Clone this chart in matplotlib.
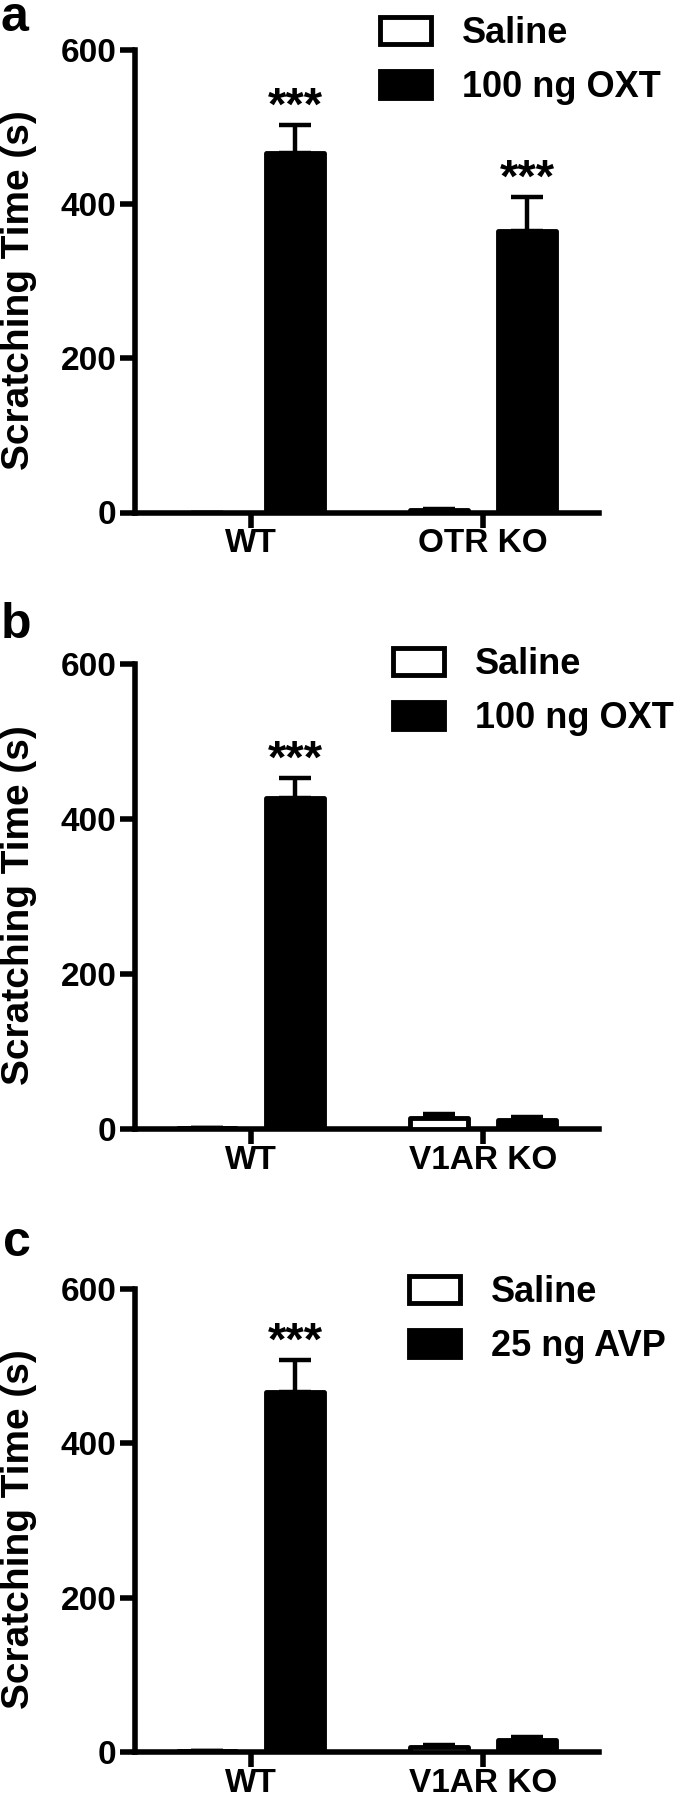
import matplotlib
matplotlib.use("Agg")
import matplotlib.pyplot as plt
from matplotlib.patches import Patch
import numpy as np

plt.rcParams['font.family'] = ['Liberation Sans', 'DejaVu Sans']
plt.rcParams['font.weight'] = 'bold'

# ---- data ----
groups_a = ["WT", "OTR KO"]
groups_bc = ["WT", "V1AR KO"]
saline_a = [0.0, 3.0]
saline_a_err = [0.0, 1.0]
oxt_a = [467.0, 365.0]
oxt_a_err = [36.0, 44.0]

saline_b = [1.0, 14.0]
saline_b_err = [0.5, 5.0]
oxt_b = [427.0, 11.0]
oxt_b_err = [26.0, 4.0]

saline_c = [1.0, 7.0]
saline_c_err = [0.5, 2.0]
avp_c = [467.0, 15.0]
avp_c_err = [41.0, 4.0]

stars_a = ["***", "***"]
stars_b = ["***", ""]
stars_c = ["***", ""]

legend_a = ["Saline", "100 ng OXT"]
legend_b = ["Saline", "100 ng OXT"]
legend_c = ["Saline", "25 ng AVP"]

yticks = [0, 200, 400, 600]
ylabel = "Scratching Time (s)"
panel_letters = ["a", "b", "c"]

# ---- figure ----
W, H = 682, 1800
fig = plt.figure(figsize=(W / 100, H / 100), dpi=100)

SPINE_LW = 4.0
BAR_LW = 3.5
ERR_LW = 3.2
TICK_FS = 24
LEG_FS = 26
YLAB_FS = 28
STAR_FS = 34

def px_axes(left, top, right, bottom):
    return fig.add_axes([left / W, 1 - bottom / H, (right - left) / W, (bottom - top) / H])

panels = [
    dict(box=(135, 50, 599, 512.5), groups=groups_a, s=saline_a, se=saline_a_err,
         t=oxt_a, te=oxt_a_err, stars=stars_a, leg=legend_a, legpos=(380, 16),
         letter=(1, 31)),
    dict(box=(135, 664, 599, 1129), groups=groups_bc, s=saline_b, se=saline_b_err,
         t=oxt_b, te=oxt_b_err, stars=stars_b, leg=legend_b, legpos=(393, 647),
         letter=(1, 638)),
    dict(box=(135, 1289, 599, 1752), groups=groups_bc, s=saline_c, se=saline_c_err,
         t=avp_c, te=avp_c_err, stars=stars_c, leg=legend_c, legpos=(409, 1275),
         letter=(3, 1256)),
]

bw = 0.25
off = 0.19

for i, p in enumerate(panels):
    ax = px_axes(*p["box"])
    x = np.arange(len(p["groups"]))
    xs = x - off
    xt = x + off
    ax.errorbar(xs, p["s"], yerr=[np.zeros(len(x)), p["se"]], fmt='none',
                ecolor='black', elinewidth=ERR_LW, capsize=11.5, capthick=ERR_LW, zorder=2)
    ax.errorbar(xt, p["t"], yerr=[np.zeros(len(x)), p["te"]], fmt='none',
                ecolor='black', elinewidth=ERR_LW, capsize=11.5, capthick=ERR_LW, zorder=2)
    b1 = ax.bar(xs, p["s"], width=bw, color='white', edgecolor='black', linewidth=BAR_LW, zorder=3)
    b2 = ax.bar(xt, p["t"], width=bw, color='black', edgecolor='black', linewidth=BAR_LW, zorder=3)
    for r in list(b1) + list(b2):
        r.set_joinstyle('round')
    for xi, v, e, st in zip(xt, p["t"], p["te"], p["stars"]):
        if st:
            ax.text(xi, v + e + 7, st, ha='center', va='baseline', fontsize=STAR_FS,
                    fontweight='bold')
    ax.set_xlim(-0.5, 1.5)
    ax.set_ylim(0, 600)
    ax.set_yticks(yticks)
    ax.set_yticklabels([str(v) for v in yticks], fontsize=TICK_FS, fontweight='bold')
    ax.set_xticks(x)
    ax.set_xticklabels(p["groups"], fontsize=TICK_FS, fontweight='bold')
    for side in ['top', 'right']:
        ax.spines[side].set_visible(False)
    for side in ['left', 'bottom']:
        ax.spines[side].set_linewidth(SPINE_LW)
    ax.tick_params(axis='y', direction='out', length=11, width=SPINE_LW, pad=2.5)
    ax.tick_params(axis='x', direction='out', length=11, width=SPINE_LW, pad=0.5)
    ax.patch.set_visible(False)

    handles = [Patch(facecolor='white', edgecolor='black', linewidth=BAR_LW, joinstyle='round'),
               Patch(facecolor='black', edgecolor='black', linewidth=BAR_LW, joinstyle='round')]
    lx, ly = p["legpos"]
    ax.legend(handles, p["leg"], loc='upper left', bbox_to_anchor=(lx / W, 1 - ly / H),
              bbox_transform=fig.transFigure, frameon=False,
              handlelength=1.42, handleheight=0.8, handletextpad=0.85,
              labelspacing=0.53, borderpad=0, borderaxespad=0,
              prop={'weight': 'bold', 'size': LEG_FS})

    cy = (p["box"][1] + p["box"][3]) / 2 + 9
    fig.text(19 / W, 1 - cy / H, ylabel, rotation=90, ha='center', va='center',
             fontsize=YLAB_FS, fontweight='bold')
    lxp, lyp = p["letter"]
    fig.text(lxp / W, 1 - lyp / H, panel_letters[i], ha='left', va='baseline',
             fontsize=36, fontweight='bold')

fig.savefig("out.png", dpi=100)
